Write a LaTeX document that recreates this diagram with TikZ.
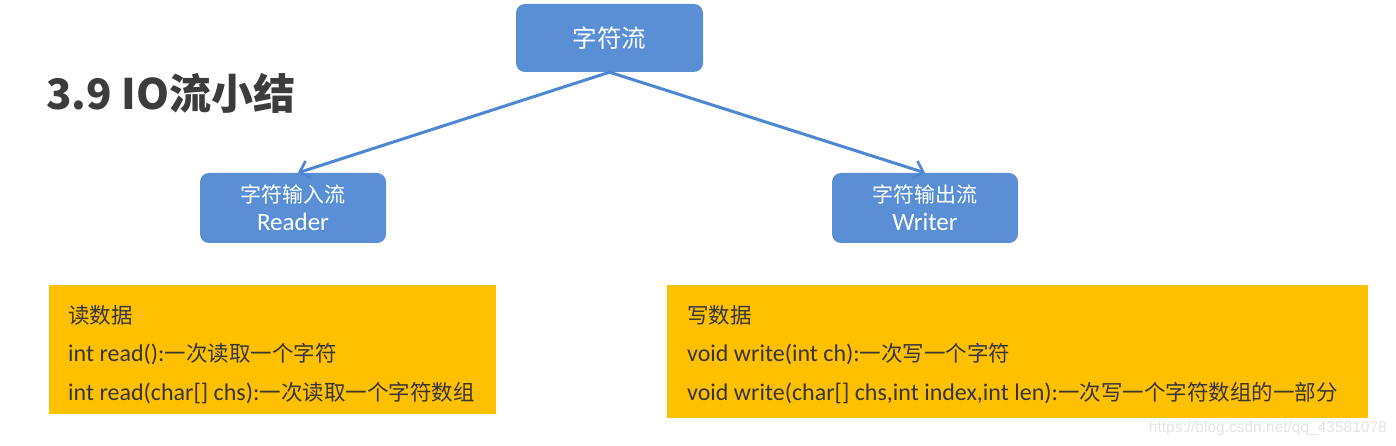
\documentclass[tikz,border=0pt]{standalone}
\usepackage{fontspec}
\setmainfont{Carlito}
\newfontfamily\cjkf{Noto Sans CJK SC}
\newfontfamily\latf{Carlito}
\newfontfamily\wmf{Liberation Sans}
\usetikzlibrary{arrows.meta}
\definecolor{boxblue}{HTML}{5A8FD6}
\definecolor{arrowblue}{HTML}{4F86D1}
\definecolor{gold}{HTML}{FFC000}
\definecolor{txt}{HTML}{363636}
\definecolor{ttl}{HTML}{3C3C3C}
\definecolor{wm}{HTML}{E4E4E4}
\newcommand\latx[2]{{\latf\fontsize{#1}{#1}\selectfont #2}}
\newcommand\cjkx[2]{{\cjkf\fontsize{#1}{#1}\selectfont #2}}
\tikzset{
  bluebox/.style={draw=none, fill=boxblue, rounded corners=9pt, text=white, align=center, inner sep=0pt},
  goldbox/.style={draw=none, fill=gold, inner sep=0pt, anchor=north west},
  line/.style={anchor=base west, inner sep=0pt, text=txt},
  arr/.style={draw=arrowblue, line width=3pt, -{Straight Barb[length=9pt, width=18pt, line width=2.6pt]}}
}
\begin{document}
\begin{tikzpicture}[x=1pt, y=-1pt]
\useasboundingbox[fill=white] (0,0) rectangle (1396,446);

% title
\node[anchor=base west, inner sep=0pt, text=ttl] (title) at (46,110)
  {\cjkf\bfseries\fontsize{42}{42}\selectfont 3.9 IO流小结};

% blue boxes
\node[bluebox, minimum width=187pt, minimum height=68pt] (top) at (609.5,38) {\cjkx{24.5}{字符流}};
\node[bluebox, minimum width=186pt, minimum height=70pt, font=\fontsize{21}{29}\selectfont] (rdr) at (293,208)
  {\cjkx{21}{字符输入流}\\[-1pt]\latx{25}{Reader}};
\node[bluebox, minimum width=186pt, minimum height=70pt, font=\fontsize{21}{29}\selectfont] (wrt) at (925,208)
  {\cjkx{21}{字符输出流}\\[-1pt]\latx{25}{Writer}};

% arrows
\draw[arr] (top.south) -- ([xshift=5pt]rdr.north);
\draw[arr] (top.south) -- (wrt.north);

% gold boxes
\node[goldbox, minimum width=447pt, minimum height=129pt] (rbox) at (49,285) {};
\node[goldbox, minimum width=701pt, minimum height=133pt] (wbox) at (667,285) {};

\node[line] (r1) at (68,323) {\cjkx{21.5}{读数据}};
\node[line] (r2) at (68,361) {\latx{24}{int read():}\cjkx{21.5}{一次读取一个字符}};
\node[line] (r3) at (68,400) {\latx{24}{int read(char[] chs):}\cjkx{21.5}{一次读取一个字符数组}};

\node[line] (w1) at (687,323) {\cjkx{21.5}{写数据}};
\node[line] (w2) at (687,361) {\latx{24}{void write(int ch):}\cjkx{21.5}{一次写一个字符}};
\node[line] (w3) at (687,400) {\latx{24}{void write(char[] chs,int index,int len):}\cjkx{21.5}{一次写一个字符数组的一部分}};

% watermark
\node[anchor=base east, inner sep=0pt, text=wm] (wmark) at (1387,432) {\wmf\fontsize{15.5}{15.5}\selectfont https://blog.csdn.net/qq\_43581078};
\end{tikzpicture}
\end{document}
